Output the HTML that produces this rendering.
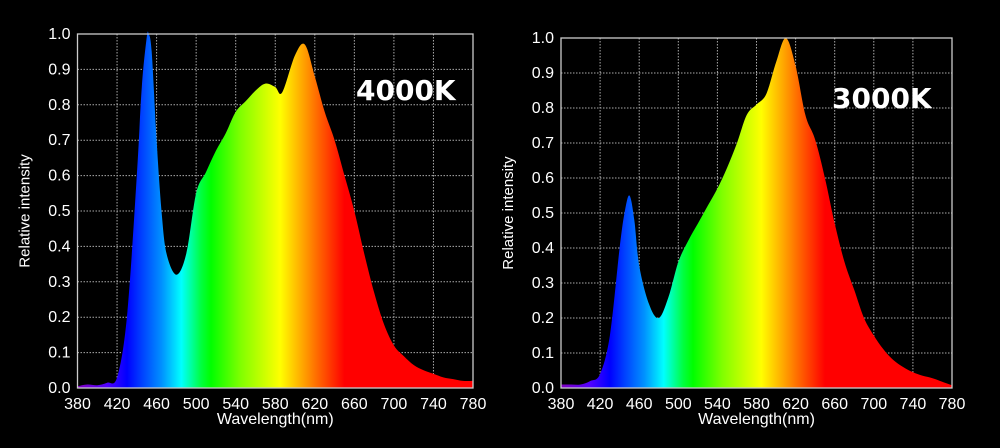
<!DOCTYPE html>
<html><head><meta charset="utf-8"><style>
html,body{margin:0;padding:0;background:#000;}
svg{display:block;}
text{font-family:"Liberation Sans",sans-serif;fill:#fff;}
</style></head><body>
<svg id="svg" width="1000" height="448" viewBox="0 0 1000 448">
<defs id="defs"></defs>
</svg>
<script>
const xTicks=[380,420,460,500,540,580,620,660,700,740,780];
const yTicks=[0.0,0.1,0.2,0.3,0.4,0.5,0.6,0.7,0.8,0.9,1.0];
const nm4000=[380,390,400,410,420,430,440,445,450,452,455,460,465,470,480,490,500,510,520,530,540,550,560,570,580,587,600,610,620,630,640,650,660,670,680,690,700,710,720,730,740,750,760,770,780];
const v4000=[0.005,0.01,0.008,0.015,0.03,0.2,0.6,0.85,0.99,1.0,0.95,0.7,0.5,0.38,0.32,0.38,0.55,0.61,0.67,0.72,0.78,0.81,0.84,0.86,0.85,0.835,0.94,0.97,0.88,0.78,0.7,0.6,0.5,0.38,0.27,0.18,0.12,0.09,0.065,0.05,0.04,0.03,0.025,0.02,0.02];
const nm3000=[380,390,400,410,420,430,440,445,450,455,460,470,480,490,500,510,520,530,540,550,560,570,580,590,600,610,620,630,640,650,660,670,680,690,700,710,720,730,740,750,760,770,780];
const v3000=[0.01,0.01,0.01,0.02,0.04,0.15,0.4,0.5,0.55,0.48,0.35,0.24,0.2,0.26,0.36,0.42,0.47,0.52,0.57,0.63,0.7,0.78,0.81,0.84,0.93,1.0,0.92,0.78,0.71,0.6,0.47,0.36,0.28,0.2,0.15,0.11,0.08,0.06,0.045,0.035,0.028,0.018,0.008];
const stopsNm=[380,410,430,445,465,485,505,515,545,585,605,625,650,780];
const stopsCol=["#8000c0","#5000ff","#0000ff","#0040ff","#0090ff","#00ffff","#00ff40","#00ff00","#80ff00","#ffff00","#ffb000","#ff6000","#ff0000","#ff0000"];

const NS="http://www.w3.org/2000/svg";
const svg=document.getElementById('svg'),defs=document.getElementById('defs');
function mk(t,a,p){const e=document.createElementNS(NS,t);for(const k in a)e.setAttribute(k,a[k]);(p||svg).appendChild(e);return e;}

function chart(id,x0,x1,y0,y1,nm,vals,label,lx,ly){
  const g=mk('g',{});
  
  
  const X=n=>x0+(n-380)/400*(x1-x0), Y=v=>y0-(v)*(y0-y1);
  const gr=mk('linearGradient',{id:'g'+id,gradientUnits:'userSpaceOnUse',x1:X(380),x2:X(780),y1:0,y2:0},defs);
  stopsNm.forEach((n,i)=>mk('stop',{offset:((n-380)/400),'stop-color':stopsCol[i]},gr));
  xTicks.forEach((t,i)=>{
    if(i>0&&i<xTicks.length-1){const l=mk('line',{x1:X(t),x2:X(t),y1:y1,y2:y0,stroke:'#aaa','stroke-width':1,'stroke-dasharray':'1.5 1.5'},g);}
    const tx=mk('text',{x:X(t),y:y0+21,'text-anchor':'middle','font-size':16},g);tx.textContent=t;
    
  });
  yTicks.forEach((t,i)=>{
    if(i>0&&i<yTicks.length-1){const l=mk('line',{x1:x0,x2:x1,y1:Y(t),y2:Y(t),stroke:'#aaa','stroke-width':1,'stroke-dasharray':'1.5 1.5'},g);}
    const tx=mk('text',{x:x0-7,y:Y(t)+5,'text-anchor':'end','font-size':16},g);tx.textContent=t.toFixed(1);
    
  });
  const pts=nm.map((n,i)=>[X(n),Y(vals[i])]);
  let d='M'+X(nm[0])+','+Y(0)+' L'+pts[0][0]+','+pts[0][1];
  for(let i=0;i<pts.length-1;i++){
    const p0=pts[Math.max(0,i-1)],p1=pts[i],p2=pts[i+1],p3=pts[Math.min(pts.length-1,i+2)];
    const c1=[p1[0]+(p2[0]-p0[0])/6,p1[1]+(p2[1]-p0[1])/6];
    const c2=[p2[0]-(p3[0]-p1[0])/6,p2[1]-(p3[1]-p1[1])/6];
    d+=' C'+c1[0].toFixed(1)+','+Math.min(y0,c1[1]).toFixed(1)+' '+c2[0].toFixed(1)+','+Math.min(y0,c2[1]).toFixed(1)+' '+p2[0].toFixed(1)+','+p2[1].toFixed(1);
  }
  d+=' L'+X(nm[nm.length-1])+','+Y(0)+' Z';
  const p=mk('path',{d:d,fill:'url(#g'+id+')'},g);
  
  const b=mk('rect',{x:x0,y:y1,width:x1-x0,height:y0-y1,fill:'none',stroke:'#ccc','stroke-width':1.3},g);
  
  const xt=mk('text',{x:(x0+x1)/2,y:y0+36,'text-anchor':'middle','font-size':16},g);xt.textContent='Wavelength(nm)';
  
  const cy=(y0+y1)/2;
  const yt=mk('text',{x:x0-48,y:cy,'text-anchor':'middle','font-size':15,transform:'rotate(-90 '+(x0-48)+' '+cy+')'},g);yt.textContent='Relative intensity';
  
  const lb=mk('text',{x:lx,y:ly,'font-size':28,'font-weight':'bold',style:'font-family:"DejaVu Sans",sans-serif'},g);lb.textContent=label;
  
}
chart('4000k',77.5,473,388,34,nm4000,v4000,'4000K',356,100);
chart('3000k',561,952,388,38,nm3000,v3000,'3000K',832,108);
</script>
</body></html>
